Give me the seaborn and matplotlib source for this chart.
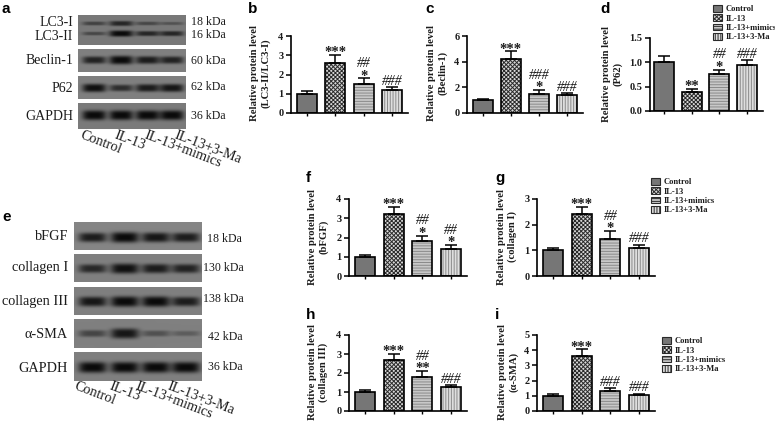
import numpy as np
import seaborn as sns
import matplotlib
matplotlib.use('Agg')
import matplotlib.pyplot as plt
from matplotlib.patches import Patch

W, H = 775, 422

groups = ['Control', 'IL-13', 'IL-13+mimics', 'IL-13+3-Ma']

# bar panels: values, error bars, stars and hashes above each bar
b_vals = [1.0, 2.6, 1.5, 1.2]
b_errs = [0.12, 0.4, 0.3, 0.15]
b_star = ['', '***', '*', '']
b_hash = ['', '', '##', '###']

c_vals = [1.0, 4.2, 1.5, 1.4]
c_errs = [0.12, 0.6, 0.3, 0.12]
c_star = ['', '***', '*', '']
c_hash = ['', '', '###', '###']

d_vals = [1.0, 0.4, 0.75, 0.94]
d_errs = [0.12, 0.06, 0.1, 0.1]
d_star = ['', '**', '*', '']
d_hash = ['', '', '##', '###']

f_vals = [1.0, 3.2, 1.8, 1.4]
f_errs = [0.1, 0.4, 0.3, 0.2]
f_star = ['', '***', '*', '*']
f_hash = ['', '', '##', '##']

g_vals = [1.0, 2.4, 1.45, 1.1]
g_errs = [0.1, 0.3, 0.3, 0.12]
g_star = ['', '***', '*', '']
g_hash = ['', '', '##', '###']

h_vals = [1.0, 2.7, 1.8, 1.25]
h_errs = [0.1, 0.3, 0.3, 0.12]
h_star = ['', '***', '**', '']
h_hash = ['', '', '##', '###']

i_vals = [1.0, 3.6, 1.3, 1.05]
i_errs = [0.1, 0.45, 0.2, 0.1]
i_star = ['', '***', '', '']
i_hash = ['', '', '###', '###']

# blot band strength per lane
lc3_1 = [0.50, 0.75, 0.45, 0.35]
lc3_2 = [0.45, 1.00, 0.75, 0.75]
beclin = [0.80, 1.00, 0.85, 0.80]
p62 = [0.95, 0.70, 0.85, 0.90]
gapdh_a = [1.00, 1.00, 1.00, 1.00]
bfgf = [0.85, 1.00, 0.90, 0.85]
coll1 = [0.75, 0.95, 0.85, 0.80]
coll3 = [0.90, 1.00, 1.00, 0.85]
sma = [0.50, 0.90, 0.40, 0.30]
gapdh_e = [1.00, 1.00, 1.00, 1.00]

sns.set_theme(style='ticks')
plt.rcParams['font.family'] = ['Liberation Serif', 'DejaVu Serif']
plt.rcParams['hatch.linewidth'] = 0.7

fig = plt.figure(figsize=(W / 100, H / 100), dpi=100)
TXT = '#1c1c1c'


def add_ax(x0, x1, ytop, y0):
    return fig.add_axes([x0 / W, 1 - y0 / H, (x1 - x0) / W, (y0 - ytop) / H])


def fx(x):
    return x / W


def fy(y):
    return 1 - y / H


styles = {
    'Control': dict(fc='#767676', hatch=None),
    'IL-13': dict(fc='#d8d8d8', hatch='xxxxxxxx'),
    'IL-13+mimics': dict(fc='#c8c8c8', hatch='------'),
    'IL-13+3-Ma': dict(fc='#dedede', hatch='||||||'),
}


def bar_panel(box, vals, errs, stars, hashes, ymax, ticks, ticklabels, ylab, lab_xy, xlim, width=0.7):
    ax = add_ax(*box)
    pal = {g: styles[g]['fc'] for g in groups}
    sns.barplot(x=groups, y=vals, hue=groups, palette=pal, order=groups, hue_order=groups,
                legend=False, dodge=False, width=width, errorbar=None, linewidth=0, ax=ax)
    for bar, g in zip(ax.patches, groups):
        bar.set_hatch(styles[g]['hatch'])
        bar.set_edgecolor('#2a2a2a' if g == 'IL-13' else '#8a8a8a')
    # black outline on top of the softer hatch
    sns.barplot(x=groups, y=vals, order=groups, fill=False, width=width, errorbar=None,
                color='black', linewidth=1.2, ax=ax)
    ax.errorbar(range(4), vals, yerr=[np.zeros(4), errs], fmt='none', ecolor='black',
                elinewidth=1.1, capsize=4, capthick=1.1)
    for k in range(4):
        top = vals[k] + errs[k]
        off = -3.0
        if stars[k]:
            ax.annotate(stars[k], (k, top), xytext=(0, off), textcoords='offset points',
                        ha='center', va='bottom', fontsize=10.5, fontweight='bold', color=TXT)
            off += 6.5
        if hashes[k]:
            ax.annotate(hashes[k], (k, top), xytext=(0, off + 2.5), textcoords='offset points',
                        ha='center', va='bottom', fontsize=9.8, style='italic', color='#111111')
    ax.set_xlim(*xlim)
    ax.set_ylim(0, ymax)
    ax.set_yticks(ticks)
    ax.set_yticklabels(ticklabels, fontsize=7.5, fontweight='bold', color=TXT)
    ax.set_xticks(range(4))
    ax.set_xticklabels([])
    ax.tick_params(axis='y', length=3.5, width=1.1, pad=2, color='black')
    ax.tick_params(axis='x', length=2.5, width=1.0, color='black')
    for s in ['left', 'bottom']:
        ax.spines[s].set_linewidth(1.2)
        ax.spines[s].set_color('black')
    sns.despine(ax=ax)
    ax.set_xlabel('')
    ax.set_ylabel(ylab, fontsize=7.7, fontweight='bold', color=TXT, va='center',
                  ha='center', linespacing=1.2)
    ax.yaxis.set_label_coords(fx(lab_xy[0]), fy(lab_xy[1]), transform=fig.transFigure)
    return ax


xl = (-0.56, 3.56)
bar_panel((291, 408, 36, 113), b_vals, b_errs, b_star, b_hash, 4, [0, 1, 2, 3, 4], ['0', '1', '2', '3', '4'],
          'Relative protein level\n(LC3-II/LC3-I)', (260, 73), xl)
bar_panel((467, 583, 36, 113), c_vals, c_errs, c_star, c_hash, 6, [0, 2, 4, 6], ['0', '2', '4', '6'],
          'Relative protein level\n(Beclin-1)', (437, 73), xl)
bar_panel((650, 763, 38, 111), d_vals, d_errs, d_star, d_hash, 1.5, [0, 0.5, 1, 1.5], ['0.0', '0.5', '1.0', '1.5'],
          'Relative protein level\n(P62)', (612, 74), (-0.51, 3.58), 0.73)
bar_panel((349, 467, 199, 276), f_vals, f_errs, f_star, f_hash, 4, [0, 1, 2, 3, 4], ['0', '1', '2', '3', '4'],
          'Relative protein level\n(bFGF)', (318, 237), xl)
bar_panel((537, 655, 199, 276), g_vals, g_errs, g_star, g_hash, 3, [0, 1, 2, 3], ['0', '1', '2', '3'],
          'Relative protein level\n(collagen I)', (507, 237), xl)
bar_panel((349, 467, 335, 411), h_vals, h_errs, h_star, h_hash, 4, [0, 1, 2, 3, 4], ['0', '1', '2', '3', '4'],
          'Relative protein level\n(collagen III)', (318, 372), xl)
bar_panel((537, 655, 335, 411), i_vals, i_errs, i_star, i_hash, 5, [0, 1, 2, 3, 4, 5], ['0', '1', '2', '3', '4', '5'],
          'Relative protein level\n(\u03b1-SMA)', (508, 372), xl)


def add_legend(x, y):
    handles = [Patch(facecolor=styles[g]['fc'], hatch=styles[g]['hatch'], edgecolor='#2a2a2a', linewidth=0.8)
               for g in groups]
    fig.legend(handles, groups, loc='upper left', bbox_to_anchor=(fx(x), fy(y)), frameon=False,
               borderpad=0, borderaxespad=0, handlelength=1.05, handleheight=0.85, handletextpad=0.4,
               labelspacing=0.12, prop=dict(size=6.1, weight='bold'), labelcolor=TXT)


add_legend(713, 5)
add_legend(651, 178)
add_legend(662, 337)


def blot(x0, x1, ytop, y0, bands, lanes, bg):
    ax = add_ax(x0, x1, ytop, y0)
    ny, nx = int(y0 - ytop) * 3, int(x1 - x0) * 3
    xx, yy = np.meshgrid(np.linspace(0, 1, nx), np.linspace(0, 1, ny))
    img = np.full((ny, nx), bg)
    for yc, strengths in bands:
        for xc, s in zip(lanes, strengths):
            wy = (0.05 + 0.14 * s) * (0.55 if len(bands) > 1 else 1)
            shape = np.exp(-((xx - xc) / 0.11) ** 4) * np.exp(-(np.abs(yy - yc) / wy) ** 3)
            img = img - s * (bg - 0.04) * shape
    sns.heatmap(np.clip(img, 0, 1), ax=ax, cmap='gray', vmin=0, vmax=1, cbar=False,
                xticklabels=False, yticklabels=False)
    ax.tick_params(length=0)
    return ax


lanes_a = [0.15, 0.40, 0.645, 0.87]
lanes_e = [0.145, 0.397, 0.64, 0.875]
blot(78, 186, 15, 45, [(0.28, lc3_1), (0.62, lc3_2)], lanes_a, 0.47)
blot(78, 186, 49, 72, [(0.48, beclin)], lanes_a, 0.50)
blot(78, 186, 76, 99, [(0.52, p62)], lanes_a, 0.50)
blot(78, 186, 103, 129, [(0.47, gapdh_a)], lanes_a, 0.48)
blot(74, 202, 222, 250, [(0.55, bfgf)], lanes_e, 0.52)
blot(74, 202, 254, 282, [(0.52, coll1)], lanes_e, 0.50)
blot(74, 202, 287, 315, [(0.52, coll3)], lanes_e, 0.50)
blot(74, 202, 319, 348, [(0.50, sma)], lanes_e, 0.50)
blot(74, 202, 352, 381, [(0.53, gapdh_e)], lanes_e, 0.50)


def put(x, y, s, **kw):
    fig.text(fx(x), fy(y), s, color=TXT, **kw)


# blot row names and sizes
for y, s in [(22, 'LC3-I'), (37, 'LC3-II'), (61, 'Beclin-1'), (89, 'P62'), (116, 'GAPDH')]:
    put(73, y, s, ha='right', va='center', fontsize=10)
for y, s in [(22, '18 kDa'), (35, '16 kDa'), (61, '60 kDa'), (87, '62 kDa'), (116, '36 kDa')]:
    put(191, y, s, ha='left', va='center', fontsize=8.6)
for y, s in [(237, 'bFGF'), (268, 'collagen I'), (301, 'collagen III'), (335, '\u03b1-SMA'), (368, 'GAPDH')]:
    put(68, y, s, ha='right', va='center', fontsize=10.3)
for x, y, s in [(207, 239, '18 kDa'), (203, 268, '130 kDa'), (203, 299, '138 kDa'), (208, 337, '42 kDa'), (208, 367, '36 kDa')]:
    put(x, y, s, ha='left', va='center', fontsize=8.6)

for x, s in zip([83, 117, 147, 177], groups):
    put(x, 129, s, rotation=-21, rotation_mode='anchor', ha='left', va='top', fontsize=10.2)
for x, s in zip([77, 112, 138, 170], groups):
    put(x, 380, s, rotation=-21, rotation_mode='anchor', ha='left', va='top', fontsize=10.2)

# panel letters
for x, y, s in [(2, 13, 'a'), (248, 13, 'b'), (425, 13, 'c'), (600, 13, 'd'), (2, 221, 'e'),
                (306, 182, 'f'), (495, 182, 'g'), (306, 319, 'h'), (495, 319, 'i')]:
    fig.text(fx(x), fy(y), s, ha='left', va='baseline', fontsize=11, fontweight='bold',
             family='Liberation Sans', color='black')

fig.savefig('out.png', dpi=100)
